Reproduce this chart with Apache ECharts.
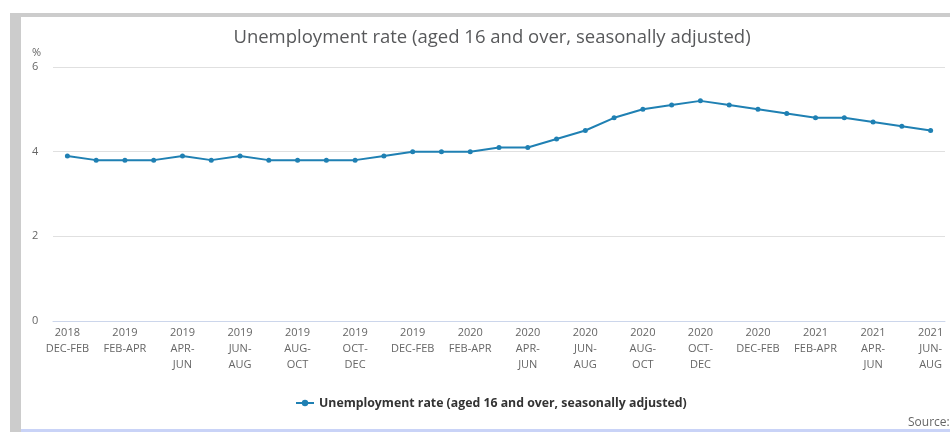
<!DOCTYPE html>
<html><head><meta charset="utf-8">
<script src="https://cdn.jsdelivr.net/npm/echarts@6/dist/echarts.min.js"></script>
<style>html,body{margin:0;padding:0;background:#fff}#c{width:950px;height:432px}</style>
</head><body><div id="c"></div>
<script>
const years = ["2018","2019","2019","2019","2019","2019","2019","2019","2019","2019","2019","2019","2019","2020","2020","2020","2020","2020","2020","2020","2020","2020","2020","2020","2020","2021","2021","2021","2021","2021","2021"];
const periods = ["DEC-FEB","JAN-MAR","FEB-APR","MAR-MAY","APR-JUN","MAY-JUL","JUN-AUG","JUL-SEP","AUG-OCT","SEP-NOV","OCT-DEC","NOV-JAN","DEC-FEB","JAN-MAR","FEB-APR","MAR-MAY","APR-JUN","MAY-JUL","JUN-AUG","JUL-SEP","AUG-OCT","SEP-NOV","OCT-DEC","NOV-JAN","DEC-FEB","JAN-MAR","FEB-APR","MAR-MAY","APR-JUN","MAY-JUL","JUN-AUG"];
const rate = [3.9,3.8,3.8,3.8,3.9,3.8,3.9,3.8,3.8,3.8,3.8,3.9,4.0,4.0,4.0,4.1,4.1,4.3,4.5,4.8,5.0,5.1,5.2,5.1,5.0,4.9,4.8,4.8,4.7,4.6,4.5];
const yTicks = [0,2,4,6];
const seriesName = "Unemployment rate (aged 16 and over, seasonally adjusted)";
const categories = years.map((y,i)=>y+" "+periods[i]);
const oneLine = ["DEC-FEB","FEB-APR"];

const chart = echarts.init(document.getElementById('c'));
chart.setOption({
  animation:false,
  textStyle:{fontFamily:"Open Sans"},
  title:[
    {text:seriesName,left:487,top:23,textAlign:'center',textStyle:{fontSize:18.5,fontWeight:'normal',color:'#58595b',fontFamily:'Open Sans'}},
    {text:'%',left:27,top:42,textStyle:{fontSize:11,fontWeight:'normal',color:'#666',fontFamily:'Open Sans'}},
    {text:'Source:',left:903,top:412,textStyle:{fontSize:12,fontWeight:'normal',color:'#666',fontFamily:'Open Sans'}}
  ],
  graphic:[
    {type:'rect',shape:{x:10,y:13,width:940,height:4},style:{fill:'#cccccc'},silent:true},
    {type:'rect',shape:{x:10,y:13,width:11,height:419},style:{fill:'#cccccc'},silent:true},
    {type:'rect',shape:{x:21,y:429,width:929,height:3},style:{fill:'#c9d3f7'},silent:true}
  ],
  legend:{
    data:[seriesName],top:392,itemWidth:18,itemHeight:8,itemGap:5,
    textStyle:{fontSize:12.3,fontWeight:'bold',color:'#333',fontFamily:'Open Sans'},
    left:290
  },
  grid:{left:53,right:5,top:67,bottom:111,containLabel:false},
  xAxis:{
    type:'category',data:categories,boundaryGap:true,
    axisLine:{lineStyle:{color:'#ccd6eb'}},
    axisTick:{interval:1,length:6,alignWithLabel:true,lineStyle:{color:'#ccd6eb'}},
    axisLabel:{interval:1,margin:4,color:'#666',fontSize:11,lineHeight:16,fontFamily:'Open Sans',
      formatter:function(v){const i=categories.indexOf(v);const p=periods[i];
        const pp = oneLine.includes(p)?p:p.replace('-','-\n'); return years[i]+'\n'+pp;}},
    splitLine:{show:false}
  },
  yAxis:{
    type:'value',min:0,max:6,interval:2,
    axisLine:{show:false},axisTick:{show:false},
    axisLabel:{color:'#666',fontSize:11,align:'left',margin:21,fontFamily:'Open Sans',formatter:v=>yTicks.includes(v)?String(v):''},
    splitLine:{lineStyle:{color:'#e0e0e0',width:1}}
  },
  series:[{
    name:seriesName,type:'line',data:rate,
    symbol:'circle',symbolSize:5,
    lineStyle:{color:'#1f80b3',width:2},
    itemStyle:{color:'#1f80b3'}
  }]
});
</script></body></html>
